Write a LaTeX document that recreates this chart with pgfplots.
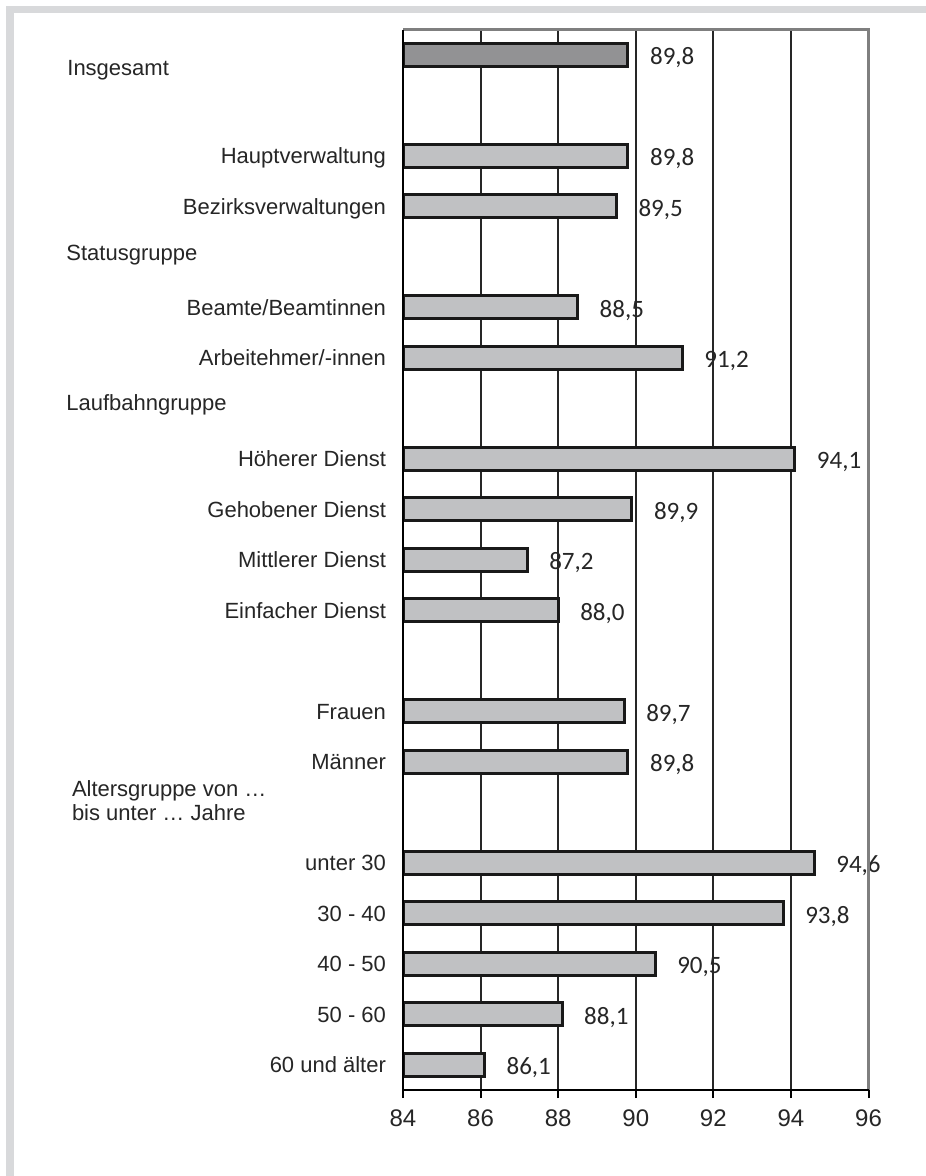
\documentclass[border=0pt]{standalone}
\usepackage{fontspec}
\setmainfont{Liberation Sans}
\newfontfamily\valfont{Carlito}
\usepackage{pgfplots}
\pgfplotsset{compat=1.18}

\definecolor{band}{HTML}{D8D9DB}
\definecolor{barfill}{HTML}{C0C1C3}
\definecolor{barsum}{HTML}{929294}
\definecolor{txt}{HTML}{262626}
\definecolor{boxgray}{HTML}{7F7F7F}

\begin{document}
\begin{tikzpicture}
% page: 926 x 1176 px at 0.5bp per px, origin top left
\fill[white] (0,0) rectangle (463bp,-588bp);
\useasboundingbox (0,0) rectangle (463bp,-588bp);
\fill[band] (3bp,-3bp) rectangle (463bp,-6.5bp);
\fill[band] (3bp,-3bp) rectangle (7bp,-588bp);

\begin{axis}[
  at={(201.5bp,-545bp)}, anchor=south west,
  scale only axis, width=232.75bp, height=530.25bp,
  xmin=84, xmax=96, ymin=-0.5, ymax=20.5,
  xbar, bar width=0.46,
  clip mode=individual,
  axis line style={draw=none},
  xtick={84,86,...,96},
  xtick pos=left, tick align=outside,
  major tick length=4bp,
  x tick style={black, line width=1bp},
  y tick style={draw=none},
  xmajorgrids,
  major grid style={line width=1bp, color=black!85},
  /pgf/number format/assume math mode=true,
  xticklabel style={font=\fontsize{12bp}{14bp}\selectfont, text=txt, yshift=-2.5bp},
  ytick={0,1,2,3,4,6,7,9,10,11,12,14,15,17,18},
  yticklabels={60 und älter, 50 - 60, 40 - 50, 30 - 40, unter 30,
    Männer, Frauen,
    Einfacher Dienst, Mittlerer Dienst, Gehobener Dienst, Höherer Dienst,
    Arbeitehmer/-innen, Beamte/Beamtinnen,
    Bezirksverwaltungen, Hauptverwaltung},
  yticklabel style={font=\fontsize{11bp}{13bp}\selectfont, text=txt,
    anchor=base east, xshift=-1bp, yshift=-3.9bp},
  point meta=x,
  nodes near coords={\pgfmathprintnumber[fixed,fixed zerofill,precision=1,use comma]{\pgfplotspointmeta}},
  nodes near coords style={font=\valfont\fontsize{12.5bp}{14bp}\selectfont,
    text=txt, anchor=west, xshift=7bp, yshift=-1.5bp},
]
\addplot[fill=barsum, draw=black!90, line width=1.5bp, bar shift=0pt]
  coordinates {(89.8,20)};
\addplot[fill=barfill, draw=black!90, line width=1.5bp, bar shift=0pt]
  coordinates {
  (89.8,18) (89.5,17)
  (88.5,15) (91.2,14)
  (94.1,12) (89.9,11) (87.2,10) (88.0,9)
  (89.7,7) (89.8,6)
  (94.6,4) (93.8,3) (90.5,2) (88.1,1) (86.1,0)};

\draw[boxgray, line width=1.5bp] (axis cs:84,20.5) -- (axis cs:96,20.5) -- (axis cs:96,-0.5);
\draw[black, line width=1bp] (axis cs:84,20.5) -- (axis cs:84,-0.5) -- (axis cs:96,-0.5);
\end{axis}

% group headings
\begin{scope}[every node/.style={anchor=base west, inner sep=0pt, text=txt,
    font=\fontsize{11bp}{12bp}\selectfont}]
\node at (33.5bp,-37.5bp) {Insgesamt};
\node at (33bp,-130bp) {Statusgruppe};
\node at (33bp,-205.35bp) {Laufbahngruppe};
\node at (35.8bp,-398bp) {Altersgruppe von …};
\node at (35.8bp,-410bp) {bis unter … Jahre};
\end{scope}
\end{tikzpicture}
\end{document}
